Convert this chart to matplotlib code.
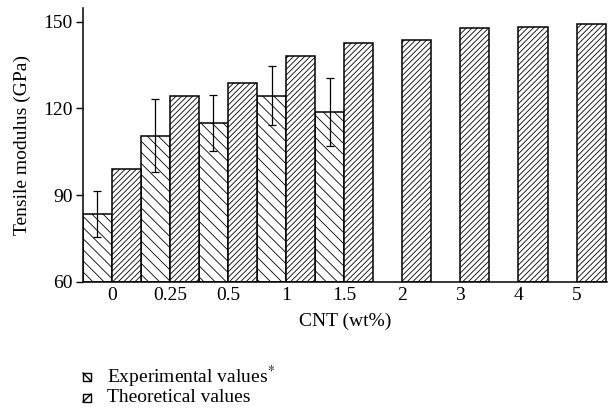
import numpy as np
import matplotlib
matplotlib.use("Agg")
import matplotlib.pyplot as plt
from matplotlib.patches import Rectangle
from matplotlib.lines import Line2D

plt.rcParams['font.family'] = ['Liberation Serif', 'DejaVu Serif']
plt.rcParams['mathtext.fontset'] = 'stix'
plt.rcParams['hatch.linewidth'] = 0.6

# data
cnt_labels = ['0', '0.25', '0.5', '1', '1.5', '2', '3', '4', '5']
exp_values = [83.5, 110.5, 115.0, 124.4, 118.8]
exp_errors = [7.9, 12.6, 9.7, 10.3, 11.8]
theory_values = [98.9, 124.4, 128.9, 138.1, 142.5, 143.7, 147.9, 148.3, 149.4]
legend_labels = ['Experimental values$^{*}$', 'Theoretical values']

exp_hatch = '\\\\\\'
theory_hatch = '//////'

x = np.arange(len(cnt_labels))
w = 0.5

fig = plt.figure(figsize=(6.08, 4.17), dpi=100)
ax = fig.add_axes([0.136, 0.3245, 0.862, 0.6565])

x_exp = x[:len(exp_values)] - w / 2
ax.bar(x_exp, np.array(exp_values) - 60, w, bottom=60, color='white',
       edgecolor='black', linewidth=1.1, hatch=exp_hatch)
ax.bar(x + w / 2, np.array(theory_values) - 60, w, bottom=60, color='white',
       edgecolor='black', linewidth=1.1, hatch=theory_hatch)
ax.errorbar(x_exp, exp_values, yerr=exp_errors, fmt='none', ecolor='black',
            elinewidth=0.9, capsize=3, capthick=0.9)

ax.set_xlim(-0.5, 8.52)
ax.set_ylim(60, 154.8)
ax.set_yticks([60, 90, 120, 150])
ax.set_xticks(x)
ax.set_xticklabels(cnt_labels)
ax.tick_params(axis='x', length=0, labelsize=14, pad=4)
ax.tick_params(axis='y', direction='out', length=5, width=1, labelsize=14, pad=2)
for s in ['top', 'right']:
    ax.spines[s].set_visible(False)
ax.spines['left'].set_linewidth(1.1)
ax.spines['bottom'].set_linewidth(1.1)

ax.set_ylabel('Tensile modulus (GPa)', fontsize=14, labelpad=9)
ax.set_xlabel('CNT (wt%)', fontsize=14, labelpad=6)

# legend below the plot, drawn by hand: small box with one diagonal
W, H = 608, 417
s = 8
for i, lab in enumerate(legend_labels):
    yc = 377 + i * 21
    x0, y0 = 83 / W, 1 - (yc + s / 2) / H
    x1, y1 = (83 + s) / W, 1 - (yc - s / 2) / H
    fig.patches.append(Rectangle((x0, y0), s / W, s / H, transform=fig.transFigure,
                                 facecolor='white', edgecolor='black', linewidth=1.0))
    if i == 0:
        diag = Line2D([x0, x1], [y1, y0], transform=fig.transFigure, color='black', lw=1.0)
    else:
        diag = Line2D([x0, x1], [y0, y1], transform=fig.transFigure, color='black', lw=1.0)
    fig.lines.append(diag)
    fig.text(107 / W, 1 - yc / H, lab, fontsize=14, va='center', ha='left')

fig.savefig('out.png', dpi=100)
